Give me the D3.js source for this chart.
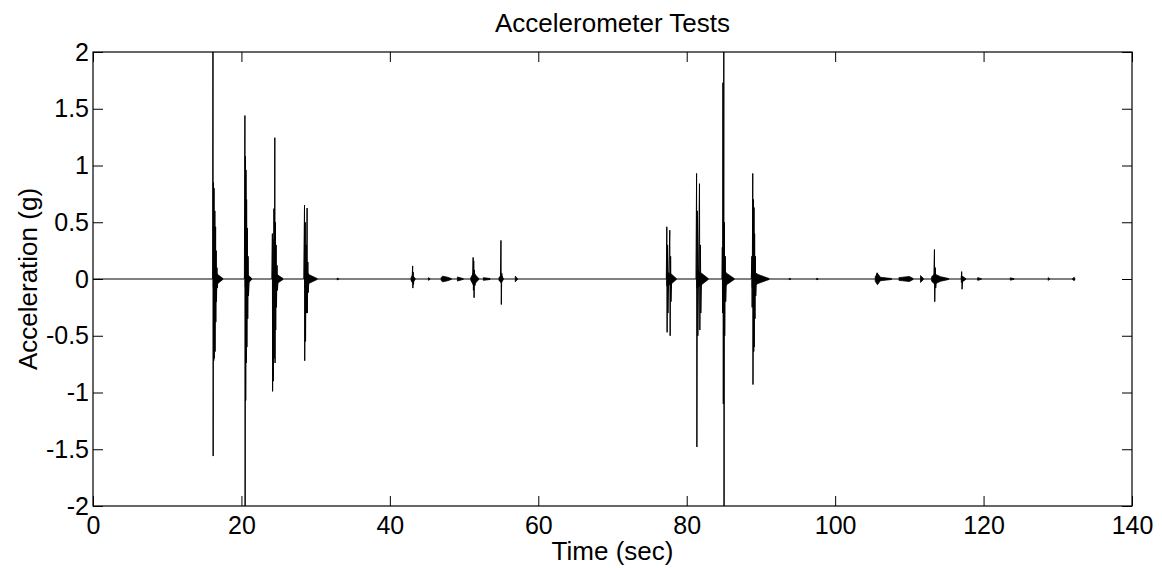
<!DOCTYPE html>
<html>
<head>
<meta charset="utf-8">
<script src="https://cdn.jsdelivr.net/npm/d3@7"></script>
<style>
  body { margin: 0; background: #fff; }
  text { font-family: "Liberation Sans", Arial, sans-serif; fill: #000; }
</style>
</head>
<body>
<div id="container"></div>
<script>
const width = 1162;
const height = 568;
const margin = { top: 52, right: 30, bottom: 62, left: 93 };

const xTicks = [0, 20, 40, 60, 80, 100, 120, 140];
const yTicks = [-2, -1.5, -1, -0.5, 0, 0.5, 1, 1.5, 2];
const titleText = "Accelerometer Tests";
const xLabel = "Time (sec)";
const yLabel = "Acceleration (g)";

// spikes, [time, accel]
const spikes16 = [[16.12,0],[16.17,2.6],[16.19,-1.56],[16.24,0.85],[16.27,-0.72],[16.31,0.8],[16.34,-0.7],[16.42,0.6],[16.45,-0.64],[16.52,0.46],[16.55,-0.38],[16.6,0.25],[16.64,-0.2],[16.7,0.1],[16.75,-0.08],[16.85,0]];
const spikes20 = [[20.4,0],[20.47,1.44],[20.5,-2.3],[20.55,1.08],[20.58,-1.07],[20.62,0.96],[20.66,-0.74],[20.7,0.7],[20.74,-0.6],[20.8,0.45],[20.85,-0.35],[20.9,0.2],[20.95,-0.15],[21.05,0]];
const spikes24 = [[24.1,0],[24.17,0.4],[24.2,-0.99],[24.25,0.35],[24.3,-0.9],[24.38,0.62],[24.42,-0.7],[24.5,1.245],[24.53,-0.74],[24.58,0.5],[24.62,-0.45],[24.68,0.3],[24.72,-0.25],[24.8,0.12],[24.85,-0.1],[24.95,0]];
const spikes28 = [[28.4,0],[28.5,0.65],[28.53,-0.72],[28.6,0.5],[28.64,-0.55],[28.72,0.3],[28.75,-0.3],[28.85,0.625],[28.88,-0.3],[28.95,0.15],[29.0,-0.12],[29.1,0]];
const spikesMid = [[43.0,0],[43.07,0.115],[43.1,-0.08],[43.14,0.06],[43.18,-0.05],[43.25,0],[51.15,0],[51.22,0.19],[51.26,-0.1],[51.3,0.16],[51.35,-0.165],[51.4,0.08],[51.45,-0.06],[51.55,0],[54.9,0],[54.97,0.34],[55.02,-0.225],[55.08,0.05],[55.15,0]];
const spikes77 = [[77.25,0],[77.32,0.46],[77.36,-0.47],[77.42,0.3],[77.47,-0.3],[77.72,0.43],[77.77,-0.5],[77.83,0.2],[77.88,-0.2],[77.98,0]];
const spikes81 = [[81.25,0],[81.33,0.93],[81.37,-1.48],[81.45,0.6],[81.5,-0.5],[81.72,0.84],[81.77,-0.45],[81.85,0.3],[81.9,-0.3],[82.0,0]];
const spikes85 = [[84.75,0],[84.8,0.28],[84.83,-0.3],[84.88,1.73],[84.93,-1.1],[85.0,2.3],[85.03,-2.3],[85.08,0.5],[85.12,-0.5],[85.2,0.2],[85.25,-0.2],[85.35,0]];
const spikes89 = [[88.7,0],[88.78,0.2],[88.82,-0.25],[88.9,0.93],[88.93,-0.93],[89.0,0.7],[89.03,-0.64],[89.07,0.63],[89.1,-0.6],[89.15,0.4],[89.2,-0.35],[89.25,0.2],[89.3,-0.15],[89.4,0]];
const spikesLate = [[105.6,0],[105.65,0.055],[105.7,-0.045],[105.8,0],[113.3,0],[113.38,0.26],[113.42,-0.2],[113.5,0.1],[113.55,-0.08],[113.65,0],[117.0,0],[117.05,0.065],[117.1,-0.09],[117.2,0],[132.3,0]];

// ringing envelopes after each hit, [time, upper, lower]
const blob16 = [[16.2,0.07,-0.07],[16.8,0.04,-0.04],[17.5,0.004,-0.004]];
const blob20 = [[20.5,0.07,-0.07],[20.9,0.035,-0.035],[21.4,0.004,-0.004]];
const blob24 = [[24.3,0.07,-0.07],[24.9,0.035,-0.035],[25.6,0.004,-0.004]];
const blob28 = [[28.5,0.075,-0.075],[29.2,0.035,-0.035],[30.2,0.004,-0.004]];
const blob33 = [[32.9,0.008,-0.008],[33.1,0.003,-0.003]];
const blob43 = [[42.85,0.01,-0.01],[43.05,0.035,-0.035],[43.4,0.004,-0.004]];
const blob45 = [[45.2,0.012,-0.012],[45.4,0.003,-0.003]];
const blob47 = [[46.9,0.01,-0.01],[47.1,0.025,-0.025],[47.8,0.015,-0.015],[48.3,0.003,-0.003]];
const blob49 = [[49.1,0.018,-0.018],[49.9,0.003,-0.003]];
const blob51 = [[50.9,0.01,-0.01],[51.3,0.06,-0.06],[51.6,0.03,-0.03],[52.0,0.004,-0.004]];
const blob52 = [[52.6,0.012,-0.012],[53.5,0.004,-0.004]];
const blob55 = [[54.7,0.01,-0.01],[55.0,0.035,-0.035],[55.3,0.004,-0.004]];
const blob57 = [[56.9,0.025,-0.025],[57.2,0.003,-0.003]];
const blob77 = [[77.3,0.06,-0.06],[77.9,0.045,-0.045],[78.6,0.004,-0.004]];
const blob81 = [[81.35,0.08,-0.08],[82.0,0.05,-0.05],[82.9,0.004,-0.004]];
const blob85 = [[84.9,0.08,-0.08],[85.5,0.045,-0.045],[86.4,0.004,-0.004]];
const blob89 = [[88.8,0.075,-0.075],[89.6,0.04,-0.04],[91.1,0.004,-0.004]];
const blob94 = [[93.8,0.006,-0.006],[94.0,0.003,-0.003]];
const blob97 = [[97.5,0.006,-0.006],[97.7,0.003,-0.003]];
const blob105 = [[105.4,0.02,-0.02],[105.7,0.05,-0.05],[106.1,0.015,-0.015],[107.6,0.004,-0.004]];
const blob109 = [[108.6,0.012,-0.012],[110.0,0.022,-0.022],[110.5,0.004,-0.004]];
const blob111 = [[111.5,0.03,-0.03],[111.9,0.004,-0.004]];
const blob113 = [[113.0,0.02,-0.02],[113.4,0.045,-0.045],[114.2,0.02,-0.02],[115.3,0.004,-0.004]];
const blob117 = [[117.0,0.03,-0.03],[117.6,0.004,-0.004]];
const blob119 = [[119.2,0.012,-0.012],[119.7,0.003,-0.003]];
const blob124 = [[123.6,0.01,-0.01],[124.1,0.003,-0.003]];
const blob129 = [[128.7,0.012,-0.012],[128.9,0.003,-0.003]];
const blob132 = [[132.0,0.003,-0.003],[132.2,0.015,-0.015],[132.3,0.003,-0.003]];

const blobs = [blob16, blob20, blob24, blob28, blob33, blob43, blob45, blob47, blob49, blob51,
  blob52, blob55, blob57, blob77, blob81, blob85, blob89, blob94, blob97, blob105, blob109,
  blob111, blob113, blob117, blob119, blob124, blob129, blob132];

const trace = [[0, 0]].concat(spikes16, spikes20, spikes24, spikes28, spikesMid,
  spikes77, spikes81, spikes85, spikes89, spikesLate);

const plotW = width - margin.left - margin.right;
const plotH = height - margin.top - margin.bottom;

const x = d3.scaleLinear().domain([0, 140]).range([0, plotW]);
const y = d3.scaleLinear().domain([-2, 2]).range([plotH, 0]);

const svg = d3.select("#container")
  .append("svg")
  .attr("width", width)
  .attr("height", height);

svg.append("defs").append("clipPath")
  .attr("id", "plot-clip")
  .append("rect")
  .attr("width", plotW)
  .attr("height", plotH);

const g = svg.append("g")
  .attr("transform", `translate(${margin.left},${margin.top})`);

const plot = g.append("g").attr("clip-path", "url(#plot-clip)");

const area = d3.area()
  .x(d => x(d[0]))
  .y0(d => y(d[2]))
  .y1(d => y(d[1]));

plot.selectAll("path.blob")
  .data(blobs)
  .enter()
  .append("path")
  .attr("class", "blob")
  .attr("d", area)
  .attr("fill", "#000")
  .attr("stroke", "#000")
  .attr("stroke-width", 0.8);

const line = d3.line()
  .x(d => x(d[0]))
  .y(d => y(d[1]));

plot.append("path")
  .datum(trace)
  .attr("d", line)
  .attr("fill", "none")
  .attr("stroke", "#000")
  .attr("stroke-width", 1);

// axes, ticks pointing inward like matlab
const fmt = d => String(d);

const axisB = g.append("g")
  .attr("transform", `translate(0,${plotH})`)
  .call(d3.axisBottom(x).tickValues(xTicks).tickFormat(fmt).tickSizeInner(-10).tickSizeOuter(0).tickPadding(10));
const axisL = g.append("g")
  .call(d3.axisLeft(y).tickValues(yTicks).tickFormat(fmt).tickSizeInner(-10).tickSizeOuter(0).tickPadding(4));
const axisT = g.append("g")
  .call(d3.axisTop(x).tickValues(xTicks).tickFormat("").tickSizeInner(-10).tickSizeOuter(0));
const axisR = g.append("g")
  .attr("transform", `translate(${plotW},0)`)
  .call(d3.axisRight(y).tickValues(yTicks).tickFormat("").tickSizeInner(-10).tickSizeOuter(0));

[axisB, axisL, axisT, axisR].forEach(a => {
  a.select(".domain").remove();
  a.selectAll("line").attr("stroke", "#000");
  a.selectAll("text")
    .style("font-family", '"Liberation Sans", Arial, sans-serif')
    .style("font-size", "25px")
    .attr("fill", "#000");
});

g.append("rect")
  .attr("width", plotW)
  .attr("height", plotH)
  .attr("fill", "none")
  .attr("stroke", "#000")
  .attr("stroke-width", 1.2);

svg.append("text")
  .attr("x", margin.left + plotW / 2)
  .attr("y", 32)
  .attr("text-anchor", "middle")
  .style("font-size", "26px")
  .text(titleText);

svg.append("text")
  .attr("x", margin.left + plotW / 2)
  .attr("y", 560)
  .attr("text-anchor", "middle")
  .style("font-size", "26px")
  .text(xLabel);

svg.append("text")
  .attr("transform", `translate(37,${margin.top + plotH / 2}) rotate(-90)`)
  .attr("text-anchor", "middle")
  .style("font-size", "26px")
  .text(yLabel);
</script>
</body>
</html>
